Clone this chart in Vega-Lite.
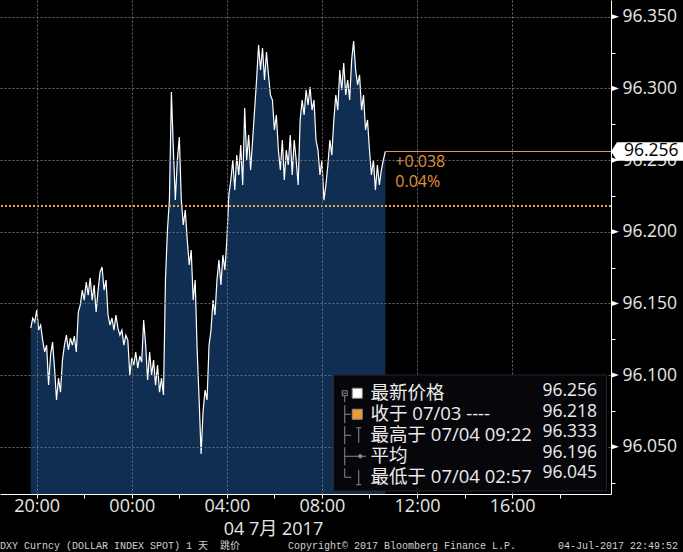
{
  "$schema": "https://vega.github.io/schema/vega-lite/v6.json",
  "width": 611,
  "height": 494,
  "autosize": {"type": "none"},
  "padding": {"left": 0, "top": 0, "right": 72, "bottom": 58},
  "background": "#000000",
  "config": {
    "view": {"stroke": null, "fill": {"gradient": "linear", "x1": 0, "y1": 0, "x2": 0, "y2": 1, "stops": [{"offset": 0, "color": "#15151a"}, {"offset": 1, "color": "#030303"}]}},
    "font": "Open Sans"
  },
  "title": {
    "text": "DXY Curncy (DOLLAR INDEX SPOT) 1 天\u00a0\u00a0跳价\u00a0\u00a0\u00a0\u00a0\u00a0\u00a0\u00a0\u00a0Copyright© 2017 Bloomberg Finance L.P.\u00a0\u00a0\u00a0\u00a0\u00a0\u00a0\u00a004-Jul-2017 22:49:52",
    "orient": "bottom",
    "anchor": "start",
    "frame": "group",
    "font": "Liberation Mono, Noto Sans CJK SC",
    "fontSize": 10,
    "fontWeight": "normal",
    "color": "#d0d0d0",
    "offset": 3
  },
  "datasets": {
    "px": [
      {"t": "2017-07-03T19:45", "v": 96.1328}, {"t": "2017-07-03T19:50", "v": 96.1398}, {"t": "2017-07-03T19:55", "v": 96.1370}, {"t": "2017-07-03T20:00", "v": 96.1454},
      {"t": "2017-07-03T20:05", "v": 96.1314}, {"t": "2017-07-03T20:10", "v": 96.1349}, {"t": "2017-07-03T20:15", "v": 96.1244}, {"t": "2017-07-03T20:20", "v": 96.1161},
      {"t": "2017-07-03T20:25", "v": 96.1209}, {"t": "2017-07-03T20:30", "v": 96.0930}, {"t": "2017-07-03T20:35", "v": 96.1140}, {"t": "2017-07-03T20:40", "v": 96.1230},
      {"t": "2017-07-03T20:45", "v": 96.1049}, {"t": "2017-07-03T20:50", "v": 96.0826}, {"t": "2017-07-03T20:55", "v": 96.0979}, {"t": "2017-07-03T21:00", "v": 96.0881},
      {"t": "2017-07-03T21:05", "v": 96.1105}, {"t": "2017-07-03T21:10", "v": 96.1209}, {"t": "2017-07-03T21:15", "v": 96.1279}, {"t": "2017-07-03T21:20", "v": 96.1175},
      {"t": "2017-07-03T21:25", "v": 96.1258}, {"t": "2017-07-03T21:30", "v": 96.1209}, {"t": "2017-07-03T21:35", "v": 96.1272}, {"t": "2017-07-03T21:40", "v": 96.1161},
      {"t": "2017-07-03T21:45", "v": 96.1440}, {"t": "2017-07-03T21:50", "v": 96.1489}, {"t": "2017-07-03T21:55", "v": 96.1593}, {"t": "2017-07-03T22:00", "v": 96.1523},
      {"t": "2017-07-03T22:05", "v": 96.1649}, {"t": "2017-07-03T22:10", "v": 96.1558}, {"t": "2017-07-03T22:15", "v": 96.1677}, {"t": "2017-07-03T22:20", "v": 96.1523},
      {"t": "2017-07-03T22:25", "v": 96.1628}, {"t": "2017-07-03T22:30", "v": 96.1440}, {"t": "2017-07-03T22:35", "v": 96.1593}, {"t": "2017-07-03T22:40", "v": 96.1719},
      {"t": "2017-07-03T22:45", "v": 96.1754}, {"t": "2017-07-03T22:50", "v": 96.1593}, {"t": "2017-07-03T22:55", "v": 96.1663}, {"t": "2017-07-03T23:00", "v": 96.1419},
      {"t": "2017-07-03T23:05", "v": 96.1349}, {"t": "2017-07-03T23:10", "v": 96.1398}, {"t": "2017-07-03T23:15", "v": 96.1314}, {"t": "2017-07-03T23:20", "v": 96.1419},
      {"t": "2017-07-03T23:25", "v": 96.1328}, {"t": "2017-07-03T23:30", "v": 96.1279}, {"t": "2017-07-03T23:35", "v": 96.1314}, {"t": "2017-07-03T23:40", "v": 96.1209},
      {"t": "2017-07-03T23:45", "v": 96.1279}, {"t": "2017-07-03T23:50", "v": 96.1244}, {"t": "2017-07-03T23:55", "v": 96.1000}, {"t": "2017-07-04T00:00", "v": 96.1119},
      {"t": "2017-07-04T00:05", "v": 96.1070}, {"t": "2017-07-04T00:10", "v": 96.1161}, {"t": "2017-07-04T00:15", "v": 96.1049}, {"t": "2017-07-04T00:20", "v": 96.1133},
      {"t": "2017-07-04T00:25", "v": 96.1091}, {"t": "2017-07-04T00:30", "v": 96.1384}, {"t": "2017-07-04T00:35", "v": 96.1209}, {"t": "2017-07-04T00:40", "v": 96.0965},
      {"t": "2017-07-04T00:45", "v": 96.1161}, {"t": "2017-07-04T00:50", "v": 96.1000}, {"t": "2017-07-04T00:55", "v": 96.1105}, {"t": "2017-07-04T01:00", "v": 96.0930},
      {"t": "2017-07-04T01:05", "v": 96.1070}, {"t": "2017-07-04T01:10", "v": 96.0881}, {"t": "2017-07-04T01:15", "v": 96.0979}, {"t": "2017-07-04T01:20", "v": 96.0861},
      {"t": "2017-07-04T01:25", "v": 96.1663}, {"t": "2017-07-04T01:30", "v": 96.2012}, {"t": "2017-07-04T01:35", "v": 96.2221}, {"t": "2017-07-04T01:40", "v": 96.2975},
      {"t": "2017-07-04T01:45", "v": 96.2570}, {"t": "2017-07-04T01:50", "v": 96.2221}, {"t": "2017-07-04T01:55", "v": 96.2500}, {"t": "2017-07-04T02:00", "v": 96.2661},
      {"t": "2017-07-04T02:05", "v": 96.2221}, {"t": "2017-07-04T02:10", "v": 96.2047}, {"t": "2017-07-04T02:15", "v": 96.2151}, {"t": "2017-07-04T02:20", "v": 96.1942},
      {"t": "2017-07-04T02:25", "v": 96.1768}, {"t": "2017-07-04T02:30", "v": 96.1872}, {"t": "2017-07-04T02:35", "v": 96.1523}, {"t": "2017-07-04T02:40", "v": 96.1663},
      {"t": "2017-07-04T02:45", "v": 96.1175}, {"t": "2017-07-04T02:50", "v": 96.0826}, {"t": "2017-07-04T02:55", "v": 96.0450}, {"t": "2017-07-04T03:00", "v": 96.0750},
      {"t": "2017-07-04T03:05", "v": 96.0895}, {"t": "2017-07-04T03:10", "v": 96.0826}, {"t": "2017-07-04T03:15", "v": 96.1209}, {"t": "2017-07-04T03:20", "v": 96.1314},
      {"t": "2017-07-04T03:25", "v": 96.1523}, {"t": "2017-07-04T03:30", "v": 96.1419}, {"t": "2017-07-04T03:35", "v": 96.1663}, {"t": "2017-07-04T03:40", "v": 96.1803},
      {"t": "2017-07-04T03:45", "v": 96.1628}, {"t": "2017-07-04T03:50", "v": 96.1838}, {"t": "2017-07-04T03:55", "v": 96.1733}, {"t": "2017-07-04T04:00", "v": 96.1942},
      {"t": "2017-07-04T04:05", "v": 96.2256}, {"t": "2017-07-04T04:10", "v": 96.2361}, {"t": "2017-07-04T04:15", "v": 96.2500}, {"t": "2017-07-04T04:20", "v": 96.2291},
      {"t": "2017-07-04T04:25", "v": 96.2535}, {"t": "2017-07-04T04:30", "v": 96.2396}, {"t": "2017-07-04T04:35", "v": 96.2605}, {"t": "2017-07-04T04:40", "v": 96.2326},
      {"t": "2017-07-04T04:45", "v": 96.2863}, {"t": "2017-07-04T04:50", "v": 96.2500}, {"t": "2017-07-04T04:55", "v": 96.2675}, {"t": "2017-07-04T05:00", "v": 96.2431},
      {"t": "2017-07-04T05:05", "v": 96.2640}, {"t": "2017-07-04T05:10", "v": 96.2849}, {"t": "2017-07-04T05:15", "v": 96.3059}, {"t": "2017-07-04T05:20", "v": 96.3303},
      {"t": "2017-07-04T05:25", "v": 96.3129}, {"t": "2017-07-04T05:30", "v": 96.3282}, {"t": "2017-07-04T05:35", "v": 96.3059}, {"t": "2017-07-04T05:40", "v": 96.3254},
      {"t": "2017-07-04T05:45", "v": 96.3094}, {"t": "2017-07-04T05:50", "v": 96.2954}, {"t": "2017-07-04T05:55", "v": 96.2919}, {"t": "2017-07-04T06:00", "v": 96.2710},
      {"t": "2017-07-04T06:05", "v": 96.2815}, {"t": "2017-07-04T06:10", "v": 96.2570}, {"t": "2017-07-04T06:15", "v": 96.2431}, {"t": "2017-07-04T06:20", "v": 96.2640},
      {"t": "2017-07-04T06:25", "v": 96.2361}, {"t": "2017-07-04T06:30", "v": 96.2570}, {"t": "2017-07-04T06:35", "v": 96.2466}, {"t": "2017-07-04T06:40", "v": 96.2675},
      {"t": "2017-07-04T06:45", "v": 96.2396}, {"t": "2017-07-04T06:50", "v": 96.2640}, {"t": "2017-07-04T06:55", "v": 96.2500}, {"t": "2017-07-04T07:00", "v": 96.2326},
      {"t": "2017-07-04T07:05", "v": 96.2780}, {"t": "2017-07-04T07:10", "v": 96.2919}, {"t": "2017-07-04T07:15", "v": 96.2815}, {"t": "2017-07-04T07:20", "v": 96.2989},
      {"t": "2017-07-04T07:25", "v": 96.2884}, {"t": "2017-07-04T07:30", "v": 96.3010}, {"t": "2017-07-04T07:35", "v": 96.2849}, {"t": "2017-07-04T07:40", "v": 96.2919},
      {"t": "2017-07-04T07:45", "v": 96.2640}, {"t": "2017-07-04T07:50", "v": 96.2570}, {"t": "2017-07-04T07:55", "v": 96.2396}, {"t": "2017-07-04T08:00", "v": 96.2500},
      {"t": "2017-07-04T08:05", "v": 96.2221}, {"t": "2017-07-04T08:10", "v": 96.2326}, {"t": "2017-07-04T08:15", "v": 96.2466}, {"t": "2017-07-04T08:20", "v": 96.2640},
      {"t": "2017-07-04T08:25", "v": 96.2535}, {"t": "2017-07-04T08:30", "v": 96.2780}, {"t": "2017-07-04T08:35", "v": 96.2954}, {"t": "2017-07-04T08:40", "v": 96.2849},
      {"t": "2017-07-04T08:45", "v": 96.3129}, {"t": "2017-07-04T08:50", "v": 96.2989}, {"t": "2017-07-04T08:55", "v": 96.3177}, {"t": "2017-07-04T09:00", "v": 96.2954},
      {"t": "2017-07-04T09:05", "v": 96.3059}, {"t": "2017-07-04T09:10", "v": 96.2919}, {"t": "2017-07-04T09:15", "v": 96.3198}, {"t": "2017-07-04T09:20", "v": 96.3330},
      {"t": "2017-07-04T09:25", "v": 96.3129}, {"t": "2017-07-04T09:30", "v": 96.3024}, {"t": "2017-07-04T09:35", "v": 96.3094}, {"t": "2017-07-04T09:40", "v": 96.2849},
      {"t": "2017-07-04T09:45", "v": 96.2954}, {"t": "2017-07-04T09:50", "v": 96.2710}, {"t": "2017-07-04T09:55", "v": 96.2780}, {"t": "2017-07-04T10:00", "v": 96.2570},
      {"t": "2017-07-04T10:05", "v": 96.2396}, {"t": "2017-07-04T10:10", "v": 96.2500}, {"t": "2017-07-04T10:15", "v": 96.2291}, {"t": "2017-07-04T10:20", "v": 96.2466},
      {"t": "2017-07-04T10:25", "v": 96.2326}, {"t": "2017-07-04T10:30", "v": 96.2431}, {"t": "2017-07-04T10:35", "v": 96.2500}, {"t": "2017-07-04T10:40", "v": 96.2560}
    ],
    "last": [{"t": "2017-07-04T10:40", "v": 96.256, "note": ["+0.038", "0.04%"]}],
    "close": [{"v": 96.218}],
    "yt": [{"v": 96.05}, {"v": 96.1}, {"v": 96.15}, {"v": 96.2}, {"v": 96.25}, {"v": 96.3}, {"v": 96.35}],
    "stats": [
      {"item": "最新价格", "val": "96.256"},
      {"item": "收于 07/03 ----", "val": "96.218"},
      {"item": "最高于 07/04 09:22", "val": "96.333"},
      {"item": "平均", "val": "96.196"},
      {"item": "最低于 07/04 02:57", "val": "96.045"}
    ]
  },
  "resolve": {"axis": {"x": "independent", "y": "independent"}},
  "layer": [
    {
      "data": {"name": "px"},
      "mark": {"type": "area", "line": false, "opacity": 1, "clip": true, "color": {"gradient": "linear", "x1": 0, "y1": 0, "x2": 0, "y2": 1, "stops": [{"offset": 0, "color": "#0f2e52"}, {"offset": 1, "color": "#03204a"}]}},
      "encoding": {
        "x": {"field": "t", "type": "temporal",
          "scale": {"domain": [{"year": 2017, "month": 7, "date": 3, "hours": 18, "minutes": 27, "seconds": 20}, {"year": 2017, "month": 7, "date": 4, "hours": 20, "minutes": 9, "seconds": 40}], "nice": false},
          "axis": {"orient": "top", "values": [{"year": 2017, "month": 7, "date": 3, "hours": 20}, {"year": 2017, "month": 7, "date": 4, "hours": 0}, {"year": 2017, "month": 7, "date": 4, "hours": 4}, {"year": 2017, "month": 7, "date": 4, "hours": 8}, {"year": 2017, "month": 7, "date": 4, "hours": 12}, {"year": 2017, "month": 7, "date": 4, "hours": 16}],
            "grid": true, "gridColor": "#6a6a6a", "gridDash": [2, 2], "gridWidth": 1, "labels": false, "ticks": false, "domain": false, "title": null, "zindex": 1}},
        "y": {"field": "v", "type": "quantitative",
          "scale": {"domain": [96.017, 96.3617], "nice": false, "zero": false},
          "axis": {"orient": "left", "values": [96.05, 96.1, 96.15, 96.2, 96.25, 96.3, 96.35], "grid": true, "gridColor": "#6a6a6a", "gridDash": [2, 2], "gridWidth": 1, "labels": false, "ticks": false, "domain": false, "title": null, "zindex": 1}}
      }
    },
    {
      "data": {"name": "px"},
      "mark": {"type": "line", "color": "#ffffff", "strokeWidth": 1.2},
      "encoding": {
        "x": {"field": "t", "type": "temporal",
          "scale": {"domain": [{"year": 2017, "month": 7, "date": 3, "hours": 18, "minutes": 27, "seconds": 20}, {"year": 2017, "month": 7, "date": 4, "hours": 20, "minutes": 9, "seconds": 40}], "nice": false},
          "axis": {"orient": "bottom",
            "values": [{"year": 2017, "month": 7, "date": 3, "hours": 20}, {"year": 2017, "month": 7, "date": 3, "hours": 22}, {"year": 2017, "month": 7, "date": 4, "hours": 0}, {"year": 2017, "month": 7, "date": 4, "hours": 2}, {"year": 2017, "month": 7, "date": 4, "hours": 4}, {"year": 2017, "month": 7, "date": 4, "hours": 6}, {"year": 2017, "month": 7, "date": 4, "hours": 8}, {"year": 2017, "month": 7, "date": 4, "hours": 10}, {"year": 2017, "month": 7, "date": 4, "hours": 12}, {"year": 2017, "month": 7, "date": 4, "hours": 14}, {"year": 2017, "month": 7, "date": 4, "hours": 16}, {"year": 2017, "month": 7, "date": 4, "hours": 18}],
            "labelExpr": "hours(datum.value) % 4 === 0 ? timeFormat(datum.value, '%H:%M') : ''",
            "grid": false, "domainColor": "#ffffff", "domainWidth": 1, "tickColor": "#ffffff", "tickSize": 4, "tickWidth": 1,
            "labelColor": "#e6e6e6", "labelFont": "Open Sans", "labelFontSize": 18, "labelPadding": -1, "labelFlush": false, "labelOverlap": false, "labelBound": false,
            "title": "04 7月 2017", "titleFont": "Open Sans, Noto Sans CJK SC", "titleFontSize": 18, "titleFontWeight": "normal", "titleColor": "#e6e6e6",
            "titleX": 273, "titleY": 40, "titleBaseline": "alphabetic", "titleAlign": "center", "zindex": 0}},
        "y": {"field": "v", "type": "quantitative",
          "scale": {"domain": [96.017, 96.3617], "nice": false, "zero": false},
          "axis": {"orient": "right",
            "values": [96.025, 96.05, 96.075, 96.1, 96.125, 96.15, 96.175, 96.2, 96.225, 96.25, 96.275, 96.3, 96.325, 96.35],
            "labelExpr": "round(datum.value * 1000) % 50 === 0 ? format(datum.value, '.3f') : ''",
            "grid": false, "domainColor": "#ffffff", "domainWidth": 1, "tickColor": "#ffffff", "tickSize": 4, "tickWidth": 1,
            "labelColor": "#e6e6e6", "labelFont": "Open Sans", "labelFontSize": 17.5, "labelPadding": 7, "labelOverlap": false, "labelFlush": false, "labelBound": false,
            "title": null, "zindex": 0}}
      }
    },
    {
      "data": {"name": "close"},
      "mark": {"type": "rule", "color": "#f2a14c", "strokeWidth": 2, "strokeDash": [2, 2]},
      "encoding": {
        "y": {"field": "v", "type": "quantitative", "scale": {"domain": [96.017, 96.3617], "nice": false, "zero": false}, "axis": null}
      }
    },
    {
      "data": {"name": "last"},
      "mark": {"type": "rule", "color": "#e9936a", "strokeWidth": 1},
      "encoding": {
        "x": {"field": "t", "type": "temporal", "scale": {"domain": [{"year": 2017, "month": 7, "date": 3, "hours": 18, "minutes": 27, "seconds": 20}, {"year": 2017, "month": 7, "date": 4, "hours": 20, "minutes": 9, "seconds": 40}], "nice": false}, "axis": null},
        "x2": {"value": "width"},
        "y": {"field": "v", "type": "quantitative", "scale": {"domain": [96.017, 96.3617], "nice": false, "zero": false}, "axis": null}
      }
    },
    {
      "data": {"name": "last"},
      "mark": {"type": "text", "align": "left", "baseline": "middle", "dx": 10, "dy": 11, "lineHeight": 20, "fontSize": 16, "font": "Open Sans", "color": "#e3923c"},
      "encoding": {
        "x": {"field": "t", "type": "temporal", "scale": {"domain": [{"year": 2017, "month": 7, "date": 3, "hours": 18, "minutes": 27, "seconds": 20}, {"year": 2017, "month": 7, "date": 4, "hours": 20, "minutes": 9, "seconds": 40}], "nice": false}, "axis": null},
        "y": {"field": "v", "type": "quantitative", "scale": {"domain": [96.017, 96.3617], "nice": false, "zero": false}, "axis": null},
        "text": {"field": "note"}
      }
    },
    {
      "data": {"name": "yt"},
      "mark": {"type": "point", "shape": "M0,-0.7L2,0L0,0.7Z", "size": 64, "filled": true, "opacity": 1, "color": "#ffffff"},
      "encoding": {
        "x": {"value": "width"},
        "y": {"field": "v", "type": "quantitative", "scale": {"domain": [96.017, 96.3617], "nice": false, "zero": false}, "axis": null}
      }
    },
    {
      "data": {"name": "last"},
      "mark": {"type": "point", "shape": "M0,0L0.6,-0.92L7.5,-0.92L7.5,0.92L0.6,0.92Z", "size": 400, "filled": true, "opacity": 1, "color": "#ffffff"},
      "encoding": {
        "x": {"value": "width"},
        "y": {"field": "v", "type": "quantitative", "scale": {"domain": [96.017, 96.3617], "nice": false, "zero": false}, "axis": null}
      }
    },
    {
      "data": {"name": "last"},
      "mark": {"type": "text", "align": "left", "baseline": "middle", "dx": 13, "fontSize": 17.5, "font": "Open Sans", "color": "#000000"},
      "encoding": {
        "x": {"value": "width"},
        "y": {"field": "v", "type": "quantitative", "scale": {"domain": [96.017, 96.3617], "nice": false, "zero": false}, "axis": null},
        "text": {"field": "v", "type": "quantitative", "format": ".3f"}
      }
    },
    {
      "data": {"name": "stats"},
      "mark": {"type": "point", "filled": true, "opacity": 1, "size": 0},
      "encoding": {
        "color": {"field": "item", "type": "nominal",
          "scale": {"domain": ["最新价格", "收于 07/03 ----", "最高于 07/04 09:22", "平均", "最低于 07/04 02:57"], "range": ["#ffffff", "#ee9a2c", "#8c8c8c", "#8c8c8c", "#8c8c8c"]},
          "legend": {"orient": "none", "legendX": 348, "legendY": 384, "padding": 0, "title": null, "direction": "vertical",
            "labelFont": "Open Sans, Noto Sans CJK SC", "labelFontSize": 18.5, "labelColor": "#ececec", "labelOffset": 4, "labelLimit": 400, "rowPadding": -3.2,
            "symbolSize": 100, "symbolOpacity": 1, "symbolStrokeColor": "#8c8c8c", "symbolStrokeWidth": 1, "zindex": 2,
            "encode": {"symbols": {"update": {"stroke": {"value": "#8c8c8c"}, "strokeWidth": {"value": 1}, "opacity": {"value": 1}}}}}},
        "shape": {"field": "item", "type": "nominal",
          "scale": {"domain": ["最新价格", "收于 07/03 ----", "最高于 07/04 09:22", "平均", "最低于 07/04 02:57"],
            "range": [
              "M-1,-1H1V1H-1Z M-3,-0.5H-2 M-2,-0.5V0.5 M-2,0.5H-3 M-3,0.5V-0.5 M-2.8,0H-2.2 M-2.5,0.5V1.8",
              "M-1,-1H1V1H-1Z M-2.5,-1.8V1.8 M-2.5,0H-1.3",
              "M-2.5,-1.8V1.8 M-2.5,0H-1.2 M-0.2,-1.5H0.8 M0.3,-1.5V1.5",
              "M-2.5,-1.8V1.8 M-2.5,0H0.25 M0.95,0H1.7 M0.95,0L0.85,0.25L0.6,0.35L0.35,0.25L0.25,0L0.35,-0.25L0.6,-0.35L0.85,-0.25Z",
              "M-2.5,-1.8V0 M-2.5,0H-1.2 M0.3,-1.5V1.5 M-0.2,1.5H0.8"
            ]},
          "legend": {"orient": "none", "legendX": 348, "legendY": 384, "padding": 0, "title": null, "direction": "vertical",
            "labelFont": "Open Sans, Noto Sans CJK SC", "labelFontSize": 18.5, "labelColor": "#ececec", "labelOffset": 4, "labelLimit": 400, "rowPadding": -3.2,
            "symbolSize": 100, "symbolOpacity": 1, "symbolStrokeColor": "#8c8c8c", "symbolStrokeWidth": 1, "zindex": 2,
            "encode": {"symbols": {"update": {"stroke": {"value": "#8c8c8c"}, "strokeWidth": {"value": 1}, "opacity": {"value": 1}}}}}},
        "strokeDash": {"field": "val", "type": "nominal",
          "scale": {"domain": ["96.256", "96.218", "96.333", "96.196", "96.045"], "range": [[1, 0], [1, 0], [1, 0], [1, 0], [1, 0]]},
          "legend": {"orient": "none", "legendX": 333, "legendY": 374.5, "padding": 8, "title": null, "direction": "vertical",
            "labelFont": "Open Sans", "labelFontSize": 17.5, "labelColor": "#ececec", "labelOffset": 184, "labelLimit": 300, "rowPadding": 1.5,
            "symbolSize": 0, "symbolStrokeWidth": 0, "symbolOpacity": 0, "fillColor": "#07070b", "strokeColor": "#25252b", "zindex": 1}}
      }
    }
  ]
}
